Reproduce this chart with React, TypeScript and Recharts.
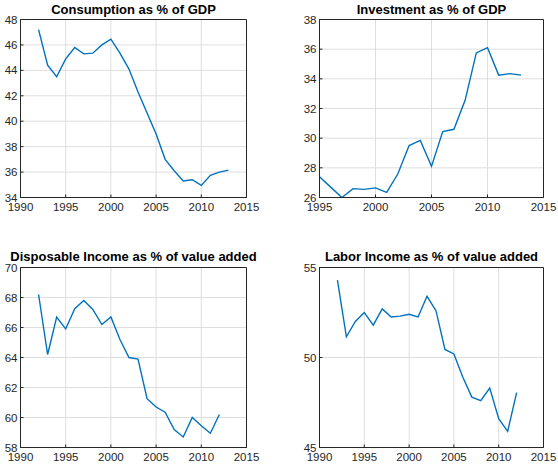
import React from 'react';
import { LineChart, Line, XAxis, YAxis, CartesianGrid, ReferenceArea } from 'recharts';

// years for each panel
const yearsConsumption = [1992, 1993, 1994, 1995, 1996, 1997, 1998, 1999, 2000, 2001, 2002, 2003, 2004, 2005, 2006, 2007, 2008, 2009, 2010, 2011, 2012, 2013];
const consumption = [47.2, 44.4, 43.5, 44.9, 45.8, 45.3, 45.35, 46.0, 46.45, 45.35, 44.1, 42.3, 40.65, 39.0, 37.0, 36.1, 35.3, 35.4, 34.95, 35.75, 36.0, 36.15];

const yearsInvestment = [1995, 1996, 1997, 1998, 1999, 2000, 2001, 2002, 2003, 2004, 2005, 2006, 2007, 2008, 2009, 2010, 2011, 2012, 2013];
const investment = [27.4, 26.7, 26.0, 26.6, 26.55, 26.65, 26.35, 27.6, 29.5, 29.85, 28.1, 30.45, 30.6, 32.55, 35.75, 36.1, 34.25, 34.35, 34.25];

const yearsIncome = [1992, 1993, 1994, 1995, 1996, 1997, 1998, 1999, 2000, 2001, 2002, 2003, 2004, 2005, 2006, 2007, 2008, 2009, 2010, 2011, 2012];
const disposableIncome = [68.2, 64.2, 66.7, 65.9, 67.25, 67.8, 67.2, 66.2, 66.7, 65.2, 64.0, 63.9, 61.25, 60.7, 60.35, 59.2, 58.7, 60.0, 59.45, 58.95, 60.2];
const laborIncome = [54.3, 51.15, 52.0, 52.5, 51.8, 52.7, 52.25, 52.3, 52.4, 52.25, 53.4, 52.6, 50.45, 50.2, 48.9, 47.8, 47.6, 48.3, 46.6, 45.9, 48.05];

// tick labels
const xTicks1990 = [1990, 1995, 2000, 2005, 2010, 2015];
const xTicks1995 = [1995, 2000, 2005, 2010, 2015];
const yTicksConsumption = [34, 36, 38, 40, 42, 44, 46, 48];
const yTicksInvestment = [26, 28, 30, 32, 34, 36, 38];
const yTicksDisposable = [58, 60, 62, 64, 66, 68, 70];
const yTicksLabor = [45, 50, 55];

const FONT = '"Liberation Sans", Arial, Helvetica, sans-serif';
const AXIS = '#262626';
const GRID = '#dedede';
const LINE = '#0072BD';

interface PanelProps {
  title: string;
  years: number[];
  values: number[];
  xTicks: number[];
  yTicks: number[];
  left: number;
  top: number;
  margin: { top: number; right: number; bottom: number; left: number };
  titleTop: number;
}

function Panel({ title, years, values, xTicks, yTicks, left, top, margin, titleTop }: PanelProps) {
  const data = years.map((year, i) => ({ year, value: values[i] }));
  const xDomain: [number, number] = [xTicks[0], xTicks[xTicks.length - 1]];
  const yDomain: [number, number] = [yTicks[0], yTicks[yTicks.length - 1]];
  const plotLeft = margin.left + 20;
  const plotRight = 279 - margin.right;
  const tickStyle = { fontSize: 11.5, fill: AXIS, fontFamily: FONT };
  const axisLine = { stroke: AXIS, strokeWidth: 1 };

  return (
    <div style={{ position: 'absolute', left, top, width: 279, height: 235 }}>
      <div
        style={{
          position: 'absolute',
          left: plotLeft - 60,
          width: plotRight - plotLeft + 120,
          top: titleTop,
          textAlign: 'center',
          fontFamily: FONT,
          fontWeight: 'bold',
          fontSize: 13,
          lineHeight: '14px',
          color: '#000',
          whiteSpace: 'nowrap',
        }}
      >
        {title}
      </div>
      <LineChart width={279} height={235} data={data} margin={margin}>
        <CartesianGrid stroke={GRID} strokeWidth={1} />
        <XAxis
          dataKey="year"
          type="number"
          domain={xDomain}
          ticks={xTicks}
          interval={0}
          height={20}
          allowDataOverflow
          axisLine={axisLine}
          tickLine={axisLine}
          tickSize={-3}
          tickMargin={8}
          tick={tickStyle}
        />
        <YAxis
          type="number"
          domain={yDomain}
          ticks={yTicks}
          interval={0}
          width={20}
          allowDataOverflow
          axisLine={axisLine}
          tickLine={axisLine}
          tickSize={-3}
          tickMargin={6}
          tick={tickStyle}
        />
        <ReferenceArea
          x1={xDomain[0]}
          x2={xDomain[1]}
          y1={yDomain[0]}
          y2={yDomain[1]}
          fill="none"
          fillOpacity={0}
          stroke={AXIS}
          strokeWidth={1}
        />
        <Line
          type="linear"
          dataKey="value"
          stroke={LINE}
          strokeWidth={1.4}
          dot={false}
          isAnimationActive={false}
        />
      </LineChart>
    </div>
  );
}

export default function App() {
  return (
    <div style={{ position: 'absolute', left: 0, top: 0, width: 558, height: 470, background: '#fff' }}>
      <Panel
        title="Consumption as % of GDP"
        years={yearsConsumption}
        values={consumption}
        xTicks={xTicks1990}
        yTicks={yTicksConsumption}
        left={0}
        top={0}
        margin={{ top: 19.5, right: 32.5, bottom: 17.5, left: 0.5 }}
        titleTop={3}
      />
      <Panel
        title="Investment as % of GDP"
        years={yearsInvestment}
        values={investment}
        xTicks={xTicks1995}
        yTicks={yTicksInvestment}
        left={279}
        top={0}
        margin={{ top: 19.5, right: 14.5, bottom: 17.5, left: 20.5 }}
        titleTop={3}
      />
      <Panel
        title="Disposable Income as % of value added"
        years={yearsIncome}
        values={disposableIncome}
        xTicks={xTicks1990}
        yTicks={yTicksDisposable}
        left={0}
        top={235}
        margin={{ top: 32.5, right: 32.5, bottom: 2.5, left: 0.5 }}
        titleTop={15}
      />
      <Panel
        title="Labor Income as % of value added"
        years={yearsIncome}
        values={laborIncome}
        xTicks={xTicks1990}
        yTicks={yTicksLabor}
        left={279}
        top={235}
        margin={{ top: 32.5, right: 14.5, bottom: 2.5, left: 20.5 }}
        titleTop={15}
      />
    </div>
  );
}
